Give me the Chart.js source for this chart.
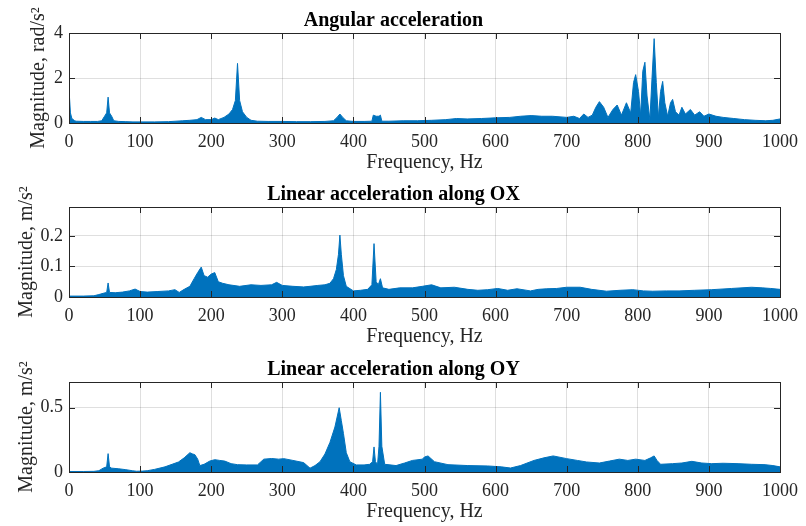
<!DOCTYPE html>
<html>
<head>
<meta charset="utf-8">
<script src="https://cdn.jsdelivr.net/npm/chart.js@4.4.0/dist/chart.umd.min.js"></script>
<style>
body { margin:0; background:#fff; width:806px; height:526px; overflow:hidden; position:relative; }
canvas { position:absolute; left:0; }
</style>
</head>
<body>
<canvas id="c1" width="806" height="180" style="top:0px"></canvas>
<canvas id="c2" width="806" height="180" style="top:174px"></canvas>
<canvas id="c3" width="806" height="177" style="top:349px"></canvas>
<script>
// spectra (upper envelope), frequency in Hz
let titles = ['Angular acceleration', 'Linear acceleration along OX', 'Linear acceleration along OY']
let yLabels = ['Magnitude, rad/s²', 'Magnitude, m/s²', 'Magnitude, m/s²']
let xLabel = 'Frequency, Hz'
let yMax = [4, 0.295, 0.7]
let yStep = [2, 0.1, 0.5]

let angFreq = [0,2,4,8,10,20,30,40,46,50,53,55,57,60,63,70,80,90,100,120,140,160,170,180,186,192,200,205,210,218,225,230,234,237,240,244,250,256,265,280,300,320,340,360,372,377,381,385,390,400,415,426,428,432,436,438,440,450,470,490,510,530,545,560,580,600,620,635,650,665,680,700,710,718,724,730,736,741,746,752,758,765,771,777,784,790,794,797,801,804,807,810,813,817,820,823,826,829,832,835,838,842,846,849,853,858,862,867,874,880,887,893,900,910,920,935,950,965,980,990,1000]
let angMag = [1.5,0.45,0.2,0.1,0.08,0.07,0.07,0.07,0.1,0.3,0.45,1.15,0.45,0.3,0.1,0.07,0.06,0.05,0.05,0.05,0.06,0.1,0.12,0.15,0.25,0.15,0.15,0.22,0.15,0.25,0.4,0.6,1.0,2.65,1.0,0.5,0.25,0.12,0.08,0.07,0.07,0.06,0.06,0.07,0.1,0.25,0.4,0.25,0.1,0.07,0.07,0.08,0.35,0.3,0.3,0.35,0.08,0.08,0.1,0.1,0.12,0.15,0.2,0.18,0.2,0.23,0.25,0.3,0.33,0.3,0.3,0.25,0.3,0.2,0.4,0.25,0.35,0.7,0.95,0.7,0.25,0.6,0.8,0.35,0.9,0.45,1.8,2.15,1.4,0.35,2.3,2.7,1.2,0.15,2.0,3.75,1.8,0.25,1.4,1.85,0.9,0.3,0.9,1.05,0.5,0.35,0.7,0.4,0.6,0.35,0.5,0.3,0.4,0.3,0.25,0.2,0.15,0.12,0.1,0.12,0.18]

let oxFreq = [0,20,35,42,48,53,55,57,65,75,85,93,100,110,125,140,149,155,162,170,176,181,186,190,195,200,205,210,216,225,240,256,270,285,292,300,315,330,339,350,360,367,372,376,379,381,383,386,390,400,410,420,426,429,432,435,438,441,450,465,483,497,510,523,542,561,575,589,603,617,630,649,660,672,686,700,719,735,756,775,793,808,821,840,858,880,904,932,960,975,987,1000]
let oxMag = [0.003,0.003,0.004,0.008,0.012,0.015,0.046,0.015,0.014,0.016,0.02,0.026,0.018,0.016,0.018,0.02,0.024,0.015,0.025,0.035,0.06,0.08,0.098,0.07,0.065,0.075,0.08,0.05,0.045,0.04,0.035,0.04,0.038,0.04,0.048,0.038,0.035,0.033,0.035,0.038,0.04,0.045,0.06,0.09,0.14,0.203,0.14,0.07,0.035,0.02,0.022,0.025,0.04,0.175,0.05,0.04,0.06,0.03,0.025,0.03,0.03,0.035,0.04,0.03,0.032,0.025,0.022,0.024,0.028,0.022,0.027,0.02,0.025,0.027,0.028,0.032,0.032,0.025,0.019,0.022,0.024,0.02,0.019,0.02,0.02,0.022,0.024,0.028,0.032,0.03,0.028,0.025]

let oyFreq = [0,20,35,42,48,53,55,57,60,70,80,89,95,103,110,120,135,145,154,162,170,174,177,181,184,190,198,205,212,219,228,237,250,265,274,285,295,302,315,330,339,346,353,360,367,374,380,383,386,390,395,404,415,423,427,429,431,434,436,438,440,444,460,472,483,497,500,505,514,533,561,589,608,621,635,654,668,681,700,715,728,746,760,774,786,797,810,818,823,827,832,849,862,876,890,904,920,941,960,979,990,1000]
let oyMag = [0.004,0.004,0.005,0.01,0.03,0.04,0.143,0.04,0.03,0.025,0.018,0.01,0.006,0.007,0.01,0.02,0.04,0.06,0.078,0.11,0.15,0.14,0.135,0.1,0.05,0.06,0.085,0.096,0.09,0.085,0.065,0.057,0.055,0.055,0.1,0.105,0.1,0.104,0.09,0.073,0.03,0.05,0.08,0.14,0.23,0.35,0.5,0.4,0.3,0.15,0.08,0.055,0.055,0.06,0.08,0.195,0.08,0.06,0.2,0.62,0.2,0.06,0.05,0.07,0.09,0.1,0.117,0.125,0.08,0.057,0.05,0.047,0.04,0.031,0.05,0.09,0.11,0.125,0.104,0.09,0.078,0.07,0.085,0.1,0.09,0.1,0.09,0.11,0.125,0.09,0.06,0.065,0.07,0.083,0.07,0.065,0.068,0.065,0.06,0.057,0.05,0.04]

const serif = "'Times New Roman', 'Liberation Serif', serif"

// matlab style box with inward ticks
const boxPlugin = {
	id: 'box',
	afterDatasetsDraw(chart) {
		const {ctx, chartArea: a, scales: {x, y}} = chart
		ctx.save()
		ctx.strokeStyle = '#262626'
		ctx.lineWidth = 1
		ctx.beginPath()
		for (let t of x.ticks) {
			let px = Math.round(x.getPixelForValue(t.value)) + 0.5
			ctx.moveTo(px, a.top); ctx.lineTo(px, a.top + 6)
			ctx.moveTo(px, a.bottom); ctx.lineTo(px, a.bottom - 6)
		}
		for (let t of y.ticks) {
			let py = Math.round(y.getPixelForValue(t.value)) + 0.5
			ctx.moveTo(a.left, py); ctx.lineTo(a.left + 6, py)
			ctx.moveTo(a.right, py); ctx.lineTo(a.right - 6, py)
		}
		ctx.stroke()
		ctx.strokeRect(a.left + 0.5, a.top + 0.5, a.right - a.left, a.bottom - a.top)
		ctx.restore()
	}
}

function make_chart(id, i, freq, mag, yTitlePad) {
	let canvas = document.getElementById(id)
	let h = canvas.height
	return new Chart(canvas, {
		type: 'line',
		data: {
			datasets: [{
				data: freq.map((f, k) => ({x: f, y: mag[k]})),
				borderColor: '#0072BD',
				backgroundColor: '#0072BD',
				borderWidth: 1,
				pointRadius: 0,
				fill: 'origin',
				tension: 0
			}]
		},
		options: {
			responsive: false,
			animation: false,
			devicePixelRatio: 1,
			layout: {padding: {left: 0, right: 19, top: 0, bottom: 0}},
			plugins: {
				legend: {display: false},
				tooltip: {enabled: false},
				title: {
					display: true,
					text: titles[i],
					color: '#000',
					font: {family: serif, size: 20, weight: 'bold'},
					padding: {top: 9, bottom: 0}
				}
			},
			scales: {
				x: {
					type: 'linear',
					min: 0,
					max: 1000,
					afterFit: s => { s.height = h - 123 },
					ticks: {
						stepSize: 100,
						padding: 8,
						color: '#262626',
						font: {family: serif, size: 18},
						maxRotation: 0,
						autoSkip: false,
						callback: v => String(v)
					},
					grid: {color: 'rgba(38,38,38,0.15)', drawTicks: false},
					border: {display: false},
					title: {
						display: true,
						text: xLabel,
						color: '#262626',
						font: {family: serif, size: 20},
						padding: {top: 0, bottom: h - 174.5}
					}
				},
				y: {
					min: 0,
					max: yMax[i],
					afterFit: s => { s.width = 69 },
					ticks: {
						stepSize: yStep[i],
						includeBounds: false,
						padding: 6,
						color: '#262626',
						font: {family: serif, size: 18},
						callback: v => String(v)
					},
					grid: {color: 'rgba(38,38,38,0.15)', drawTicks: false},
					border: {display: false},
					title: {
						display: true,
						text: yLabels[i],
						color: '#262626',
						font: {family: serif, size: 20},
						padding: {top: yTitlePad, bottom: 0}
					}
				}
			}
		},
		plugins: [boxPlugin]
	})
}

window.onload = function() {
	make_chart('c1', 0, angFreq, angMag, 27)
	make_chart('c2', 1, oxFreq, oxMag, 14.5)
	make_chart('c3', 2, oyFreq, oyMag, 14.5)
}
</script>
</body>
</html>
